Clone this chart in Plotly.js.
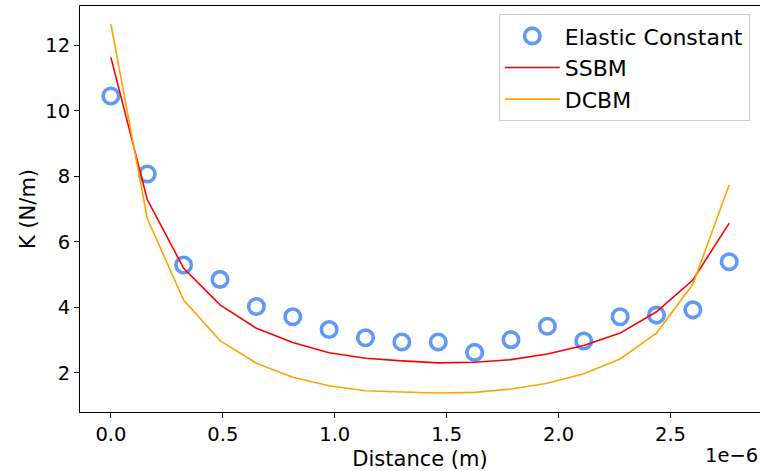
<!DOCTYPE html>
<html>
<head>
<meta charset="utf-8">
<script src="https://cdn.plot.ly/plotly-3.0.1.min.js"></script>
<style>html,body{margin:0;padding:0;background:#fff;}#chart{width:760px;height:471px;}</style>
</head>
<body>
<div id="chart"></div>
<script>
// Distance in metres (18 equally spaced positions)
const distance = [0, 0.1625e-6, 0.325e-6, 0.4875e-6, 0.65e-6, 0.8125e-6, 0.975e-6, 1.1375e-6, 1.3e-6,
  1.4625e-6, 1.625e-6, 1.7875e-6, 1.95e-6, 2.1125e-6, 2.275e-6, 2.4375e-6, 2.6e-6, 2.7625e-6];
const elasticConstant = [10.45, 8.07, 5.29, 4.85, 4.02, 3.71, 3.32, 3.07, 2.94, 2.94, 2.62, 3.01, 3.42, 2.97, 3.71, 3.76, 3.92, 5.39];
const ssbm = [11.63, 7.29, 5.19, 4.07, 3.36, 2.92, 2.61, 2.44, 2.36, 2.30, 2.32, 2.40, 2.57, 2.83, 3.21, 3.86, 4.83, 6.57];
const dcbm = [12.65, 6.71, 4.22, 2.98, 2.29, 1.86, 1.60, 1.45, 1.41, 1.38, 1.40, 1.50, 1.68, 1.97, 2.42, 3.21, 4.70, 7.74];
const xTickVals = [0, 0.5e-6, 1.0e-6, 1.5e-6, 2.0e-6, 2.5e-6];
const xTickText = ['0.0', '0.5', '1.0', '1.5', '2.0', '2.5'];
const yTickVals = [2, 4, 6, 8, 10, 12];

const font = 'DejaVu Sans, sans-serif';
const traces = [
  {x: distance, y: elasticConstant, name: 'Elastic Constant', mode: 'markers', type: 'scatter', legendgroup: 'a',
   marker: {symbol: 'circle-open', size: 15.5, color: '#5f9af5', line: {width: 3.6, color: '#5f9af5'}}},
  {x: distance, y: ssbm, name: 'SSBM', mode: 'lines', type: 'scatter', legendgroup: 'b',
   line: {color: '#ff0000', width: 1.6}},
  {x: distance, y: dcbm, name: 'DCBM', mode: 'lines', type: 'scatter', legendgroup: 'c',
   line: {color: '#ffa500', width: 1.6}}
];
const layout = {
  width: 760, height: 471,
  margin: {l: 80, r: 0, t: 6, b: 59},
  paper_bgcolor: '#fff', plot_bgcolor: '#fff',
  font: {family: font, color: '#000', size: 19.5},
  showlegend: true,
  legend: {x: 0.985, xanchor: 'right', y: 0.98, yanchor: 'top', bgcolor: 'rgba(255,255,255,0.8)',
    bordercolor: '#cccccc', borderwidth: 1, font: {family: font, size: 22, color: '#000'},
    itemwidth: 55, traceorder: 'grouped', tracegroupgap: 0},
  xaxis: {range: [-0.138e-6, 2.9e-6], tickvals: xTickVals, ticktext: xTickText, ticks: 'outside', ticklen: 5,
    tickcolor: '#000', showgrid: false, zeroline: false, showline: true, linecolor: '#000', linewidth: 1, mirror: true,
    tickfont: {size: 19.5}, title: {text: 'Distance (m)', font: {size: 21}, standoff: 5}},
  yaxis: {range: [0.80, 13.20], tickvals: yTickVals, ticks: 'outside', ticklen: 5,
    tickcolor: '#000', showgrid: false, zeroline: false, showline: true, linecolor: '#000', linewidth: 1, mirror: true,
    tickfont: {size: 19.5}, title: {text: 'K (N/m)', font: {size: 21}, standoff: 3}},
  annotations: [{text: '1e\u22126', xref: 'paper', yref: 'paper', x: 1, y: 0, xanchor: 'right', yanchor: 'middle',
    yshift: -43, showarrow: false, font: {size: 19.5, family: font, color: '#000'}}]
};
Plotly.newPlot('chart', traces, layout, {displayModeBar: false, staticPlot: true});
</script>
</body>
</html>
